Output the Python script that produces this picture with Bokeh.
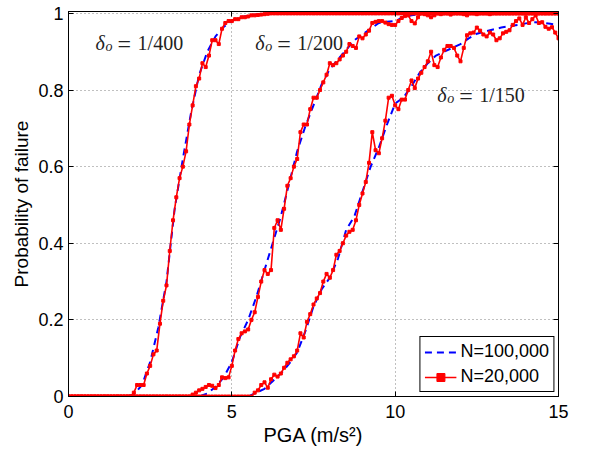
from bokeh.plotting import figure
from bokeh.models import (Range1d, FixedTicker, LinearAxis, Label, Legend, LegendItem,
                          CustomJSTickFormatter)
from bokeh.embed import file_html
from bokeh.resources import INLINE

# ---------------- data ----------------
# PGA grid of the N=20,000 runs (0.1 m/s^2 steps) and of the N=100,000 runs (0.25 steps)
pga_20k = [round(0.1 * i, 1) for i in range(151)]
pga_100k = [0.25 * i for i in range(61)]

# N=20,000 estimates
p400_20k = [
    0, 0, 0, 0, 0, 0, 0, 0, 0, 0,
    0, 0, 0, 0, 0, 0, 0, 0, 0, 0,
    0.01, 0.03, 0.03, 0.03, 0.06, 0.08, 0.11, 0.12, 0.19, 0.25,
    0.29, 0.38, 0.46, 0.52, 0.57, 0.60, 0.64, 0.71, 0.76, 0.81,
    0.83, 0.87, 0.86, 0.89, 0.93, 0.93, 0.92, 0.96, 0.975, 0.98,
    0.98, 0.985, 0.985, 0.99, 0.99, 0.992, 0.995, 0.995, 0.996, 0.997,
    0.998, 0.999, 1, 1, 1, 1, 1, 1, 1, 1,
    1, 1, 1, 1, 1, 1, 1, 1, 1, 1,
    1, 1, 1, 1, 1, 1, 1, 1, 1, 1,
    1, 1, 1, 1, 1, 1, 1, 1, 1, 1,
    1, 1, 1, 1, 1, 1, 1, 1, 1, 1,
    1, 1, 1, 1, 1, 1, 1, 1, 1, 1,
    1, 1, 1, 1, 1, 1, 1, 1, 1, 1,
    1, 1, 1, 1, 1, 1, 1, 1, 1, 1,
    1, 1, 1, 1, 1, 1, 1, 1, 1, 1,
    1,
]
p200_20k = [
    0, 0, 0, 0, 0, 0, 0, 0, 0, 0,
    0, 0, 0, 0, 0, 0, 0, 0, 0, 0,
    0, 0, 0, 0, 0, 0, 0, 0, 0, 0,
    0, 0, 0, 0, 0, 0, 0, 0, 0.005, 0.01,
    0.016, 0.02, 0.025, 0.03, 0.028, 0.022, 0.03, 0.05, 0.048, 0.05,
    0.08, 0.12, 0.15, 0.165, 0.17, 0.175, 0.20, 0.22, 0.26, 0.30,
    0.33, 0.32, 0.33, 0.44, 0.46, 0.435, 0.49, 0.55, 0.57, 0.60,
    0.62, 0.69, 0.71, 0.71, 0.75, 0.78, 0.78, 0.80, 0.82, 0.84,
    0.87, 0.865, 0.87, 0.88, 0.89, 0.90, 0.92, 0.915, 0.91, 0.94,
    0.935, 0.945, 0.955, 0.975, 0.978, 0.98, 0.98, 0.976, 0.972, 0.97,
    0.97, 0.98, 0.988, 0.993, 0.995, 0.98, 0.974, 0.99, 1.0, 0.998,
    0.995, 0.99, 0.995, 1, 0.998, 1, 1, 0.997, 1, 1,
    1, 0.998, 0.995, 1, 1, 0.998, 1, 1, 1, 0.998,
    1, 1, 1, 1, 1, 1, 1, 1, 1, 1,
    1, 1, 1, 1, 1, 1, 1, 1, 1, 1,
    1,
]
p150_20k = [
    0, 0, 0, 0, 0, 0, 0, 0, 0, 0,
    0, 0, 0, 0, 0, 0, 0, 0, 0, 0,
    0, 0, 0, 0, 0, 0, 0, 0, 0, 0,
    0, 0, 0, 0, 0, 0, 0, 0, 0, 0,
    0, 0, 0, 0, 0, 0, 0, 0, 0, 0,
    0, 0, 0, 0, 0, 0, 0, 0.01, 0.016, 0.03,
    0.037, 0.023, 0.045, 0.057, 0.052, 0.06, 0.075, 0.088, 0.097, 0.105,
    0.12, 0.165, 0.154, 0.195, 0.215, 0.24, 0.256, 0.27, 0.30, 0.32,
    0.31, 0.33, 0.37, 0.38, 0.40, 0.42, 0.43, 0.435, 0.46, 0.50,
    0.53, 0.56, 0.61, 0.69, 0.643, 0.635, 0.674, 0.72, 0.78, 0.785,
    0.76, 0.75, 0.775, 0.775, 0.80, 0.825, 0.805, 0.83, 0.845, 0.86,
    0.875, 0.90, 0.865, 0.86, 0.885, 0.905, 0.915, 0.915, 0.91, 0.89,
    0.875, 0.91, 0.943, 0.948, 0.95, 0.963, 0.955, 0.945, 0.94, 0.95,
    0.945, 0.93, 0.935, 0.948, 0.952, 0.956, 0.97, 0.98, 0.987, 0.97,
    0.99, 0.975, 0.985, 0.995, 0.975, 0.977, 0.965, 0.96, 0.964, 0.95,
    0.935,
]

# N=100,000 estimates
p400_100k = [
    0, 0, 0, 0, 0, 0, 0, 0,
    0.005, 0.03, 0.09, 0.18, 0.30, 0.49, 0.62, 0.74, 0.84, 0.90, 0.94, 0.965,
    0.98, 0.99, 0.994, 0.997, 0.999,
    1, 1, 1, 1, 1, 1, 1, 1, 1, 1, 1, 1, 1, 1, 1, 1, 1, 1,
    1, 1, 1, 1, 1, 1, 1, 1, 1, 1, 1, 1, 1, 1, 1, 1, 1, 1,
]
p200_100k = [
    0, 0, 0, 0, 0, 0, 0, 0, 0, 0, 0, 0, 0, 0, 0, 0, 0,
    0.008, 0.025, 0.05, 0.09, 0.155, 0.20, 0.26, 0.33, 0.40, 0.47, 0.555,
    0.64, 0.705, 0.76, 0.815, 0.855, 0.88, 0.905, 0.93, 0.945, 0.96, 0.975,
    0.978, 0.98, 0.99, 0.995, 0.998,
    1, 1, 1, 1, 1, 1, 1, 1, 1, 1, 1, 1, 1, 1, 1, 1, 1,
]
p150_100k = [
    0, 0, 0, 0, 0, 0, 0, 0, 0, 0, 0, 0, 0, 0, 0, 0, 0, 0, 0, 0, 0, 0, 0,
    0.01, 0.02, 0.04, 0.06, 0.085, 0.115, 0.17, 0.235, 0.28, 0.31, 0.36,
    0.435, 0.47, 0.535, 0.60, 0.65, 0.71, 0.765, 0.78, 0.81, 0.845, 0.87,
    0.89, 0.90, 0.91, 0.92, 0.935, 0.947, 0.953, 0.958, 0.963, 0.967, 0.97,
    0.974, 0.977, 0.976, 0.973, 0.97,
]

x_ticks = [0, 5, 10, 15]
y_ticks = [0, 0.2, 0.4, 0.6, 0.8, 1]
y_tick_labels = {0: "0", 0.2: "0.2", 0.4: "0.4", 0.6: "0.6", 0.8: "0.8", 1: "1"}

annotations = [("1/400", 0.83, 0.922), ("1/200", 5.72, 0.922), ("1/150", 11.29, 0.786)]

# ---------------- figure ----------------
SANS = "Liberation Sans"
SERIF = "Liberation Serif"

p = figure(width=591, height=452, output_backend="svg", toolbar_location=None,
           x_range=Range1d(0, 15), y_range=Range1d(0, 1.005),
           min_border_left=68, min_border_right=33, min_border_top=11,
           min_border_bottom=56, background_fill_color="white",
           border_fill_color="white")
p.outline_line_color = "black"
p.outline_line_width = 1
p.outline_line_alpha = 1

for ax in (p.xaxis[0], p.yaxis[0]):
    ax.major_tick_in = 5
    ax.major_tick_out = 0
    ax.minor_tick_line_color = None
    ax.axis_line_color = "black"
    ax.major_tick_line_color = "black"
    ax.major_label_text_font = SANS
    ax.major_label_text_font_size = "18px"
    ax.major_label_text_color = "black"
    ax.axis_label_text_font = SANS
    ax.axis_label_text_font_style = "normal"
    ax.axis_label_text_color = "black"

p.xaxis.ticker = FixedTicker(ticks=x_ticks)
p.xaxis.major_label_standoff = 8
p.xaxis.axis_label = "PGA (m/s²)"
p.xaxis.axis_label_text_font_size = "20px"
p.xaxis.axis_label_standoff = 3
p.yaxis.ticker = FixedTicker(ticks=y_ticks)
p.yaxis.major_label_overrides = y_tick_labels
p.yaxis.major_label_standoff = 5
p.yaxis.axis_label = "Probability of failure"
p.yaxis.axis_label_text_font_size = "19px"
p.yaxis.axis_label_standoff = 3

blank = CustomJSTickFormatter(code="return '';")
top_ax = LinearAxis(ticker=FixedTicker(ticks=x_ticks), formatter=blank,
                    major_tick_in=5, major_tick_out=0, minor_tick_line_color=None,
                    major_label_standoff=0)
right_ax = LinearAxis(ticker=FixedTicker(ticks=y_ticks), formatter=blank,
                      major_tick_in=5, major_tick_out=0, minor_tick_line_color=None,
                      major_label_standoff=0)
p.add_layout(top_ax, "above")
p.add_layout(right_ax, "right")

p.xgrid.ticker = FixedTicker(ticks=x_ticks)
p.ygrid.ticker = FixedTicker(ticks=y_ticks)
for g in (p.xgrid[0], p.ygrid[0]):
    g.grid_line_color = "#808080"
    g.grid_line_dash = "1 3"
    g.grid_line_width = 1

# ---------------- curves ----------------
blue_renderers = []
for ys in (p400_100k, p200_100k, p150_100k):
    blue_renderers.append(p.line(pga_100k, ys, line_color="#0000ff", line_width=2,
                                 line_dash="7 5"))
red_lines, red_pts = [], []
for ys in (p400_20k, p200_20k, p150_20k):
    red_lines.append(p.line(pga_20k, ys, line_color="#ff0000", line_width=1.6))
    red_pts.append(p.scatter(pga_20k, ys, marker="square", size=3,
                             fill_color="#ff0000", line_color="#ff0000"))

legend = Legend(items=[LegendItem(label="N=100,000", renderers=[blue_renderers[0]]),
                       LegendItem(label="N=20,000", renderers=[red_lines[0], red_pts[0]])],
                location="bottom_right", border_line_color="black", border_line_width=1,
                border_line_alpha=1, background_fill_color="white", background_fill_alpha=1,
                label_text_font=SANS, label_text_font_size="18px", label_text_color="black",
                glyph_width=32, glyph_height=20, label_height=20, spacing=4, padding=4,
                margin=4, label_standoff=4)
p.add_layout(legend)

# ---------------- annotations ----------------
for frac, ax_x, ax_y in annotations:
    common = dict(x=ax_x, y=ax_y, text_baseline="alphabetic", text_color="#222222",
                  text_font=SERIF)
    p.add_layout(Label(text="δ", text_font_style="italic", text_font_size="20px", **common))
    p.add_layout(Label(text="o", text_font_style="italic", text_font_size="14px",
                       x_offset=10, y_offset=-3, **common))
    p.add_layout(Label(text="=", text_font_size="24px", x_offset=22, y_offset=-1, **common))
    p.add_layout(Label(text=frac, text_font_size="20px", x_offset=42, **common))

open("out.html", "w").write(file_html(p, INLINE))
